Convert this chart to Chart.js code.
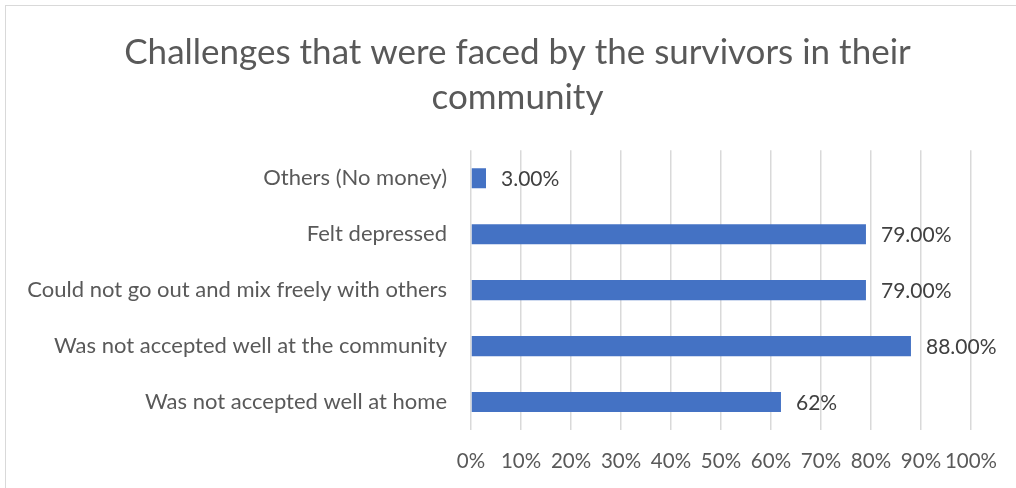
<!DOCTYPE html>
<html>
<head>
<meta charset="utf-8">
<script src="https://cdn.jsdelivr.net/npm/chart.js@4.4.1/dist/chart.umd.min.js"></script>
<style>
  html, body { margin: 0; padding: 0; background: #fff; }
  body { width: 1016px; height: 488px; overflow: hidden; position: relative; }
  .frame { position: absolute; left: 5px; top: 5px; width: 1020px; height: 600px; border: 1px solid #d9d9d9; }
  #chart-wrap { position: absolute; left: 0; top: 0; width: 1016px; height: 488px; }
</style>
</head>
<body>
<div class="frame"></div>
<div id="chart-wrap"><canvas id="challengesChart"></canvas></div>
<script>
// Categories listed top to bottom, values in percent
const categories = [
    'Others (No money)',
    'Felt depressed',
    'Could not go out and mix freely with others',
    'Was not accepted well at the community',
    'Was not accepted well at home'
];
const shares = [3, 79, 79, 88, 62];
const valueLabels = ['3.00%', '79.00%', '79.00%', '88.00%', '62%'];

const textGrey = '#595959';
const fontFamily = 'Lato, "Open Sans", sans-serif';

// Writes the value text just past the end of each bar
const barValueLabels = {
    id: 'barValueLabels',
    afterDatasetsDraw(chart) {
        const ctx = chart.ctx;
        const meta = chart.getDatasetMeta(0);
        ctx.save();
        ctx.font = '21px ' + fontFamily;
        ctx.fillStyle = '#404040';
        ctx.textAlign = 'left';
        ctx.textBaseline = 'middle';
        meta.data.forEach(function(bar, i) {
            ctx.fillText(valueLabels[i], bar.x + 15, bar.y + 1);
        });
        ctx.restore();
    }
};

// Title sits a little right of the canvas centre, so narrow its box from the left
const titleOffset = {
    id: 'titleOffset',
    afterLayout(chart) {
        if (chart.titleBlock) {
            chart.titleBlock.left = 64;
        }
    }
};

const ctx = document.getElementById('challengesChart').getContext('2d');
const challengesChart = new Chart(ctx, {
    type: 'bar',
    data: {
        labels: categories,
        datasets: [{
            label: 'Share',
            data: shares,
            backgroundColor: '#4472c4',
            borderWidth: 0,
            barPercentage: 0.36,
            categoryPercentage: 1
        }]
    },
    options: {
        indexAxis: 'y',
        responsive: true,
        maintainAspectRatio: false,
        animation: false,
        layout: {
            padding: { top: 6, right: 45, bottom: 0, left: 0 }
        },
        plugins: {
            legend: { display: false },
            tooltip: { enabled: false },
            title: {
                display: true,
                text: ['Challenges that were faced by the survivors in their', 'community'],
                color: textGrey,
                font: { family: fontFamily, size: 35, weight: 'normal', lineHeight: 1.29 },
                padding: { top: 24, bottom: 30 }
            }
        },
        scales: {
            x: {
                min: 0,
                max: 100,
                ticks: {
                    stepSize: 10,
                    padding: 19,
                    color: textGrey,
                    font: { family: fontFamily, size: 20.5 },
                    maxRotation: 0,
                    autoSkip: false,
                    callback: function(value) { return value + '%'; }
                },
                grid: { color: '#d9d9d9', lineWidth: 1.5, drawTicks: false },
                border: { display: false },
                afterFit: function(scale) { scale.height = 58; }
            },
            y: {
                ticks: {
                    padding: 24,
                    color: textGrey,
                    font: { family: fontFamily, size: 22 }
                },
                grid: { display: false, drawTicks: false },
                border: { display: false },
                afterFit: function(scale) { scale.width = 471; }
            }
        }
    },
    plugins: [barValueLabels, titleOffset]
});
</script>
</body>
</html>
